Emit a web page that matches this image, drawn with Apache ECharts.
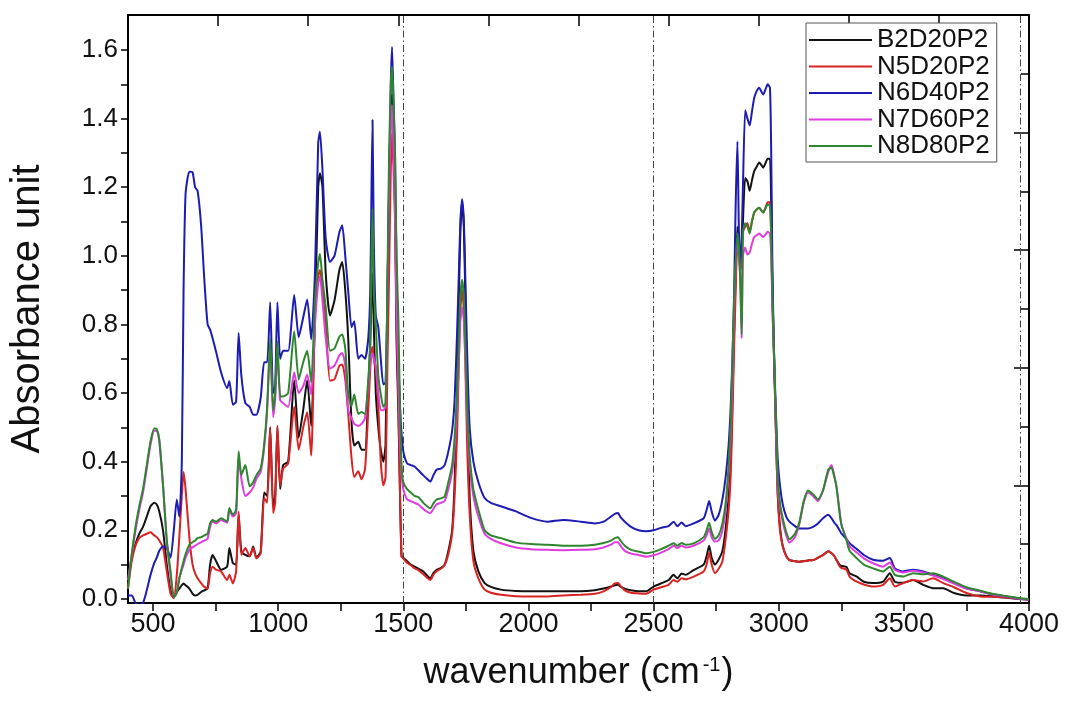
<!DOCTYPE html>
<html>
<head>
<meta charset="utf-8">
<title>FTIR absorbance spectra</title>
<script src="https://cdn.jsdelivr.net/npm/echarts@6/dist/echarts.min.js"></script>
<style>
  html, body { margin: 0; padding: 0; background: #ffffff; }
  #chart { width: 1067px; height: 702px; }
</style>
</head>
<body>
<div id="chart"></div>
<script>
// Wavenumber grid (cm^-1) shared by all spectra
const wavenumber = [400,415,430,445,460,475,490,505,515,525,
  540,555,570,583,595,605,615,622,630,645,
  658,668,678,692,705,718,728,738,752,772,
  796,805,819,832,842,853,869,886,900,913,
  930,944,956,968,980,988,997,1008,1020,1040,
  1064,1082,1100,1116,1132,1147,1160,1167,1177,1190,
  1207,1225,1245,1256,1268,1280,1293,1304,1320,1333,
  1347,1360,1368,1373,1377,1382,1390,1400,1410,1420,
  1429,1437,1443,1450,1455,1461,1467,1473,1480,1487,
  1493,1500,1515,1530,1545,1560,1580,1595,1608,1620,
  1632,1650,1665,1680,1695,1705,1715,1722,1728,1735,
  1742,1748,1755,1765,1780,1800,1825,1850,1890,1950,
  2010,2075,2140,2210,2265,2300,2330,2345,2358,2368,
  2385,2410,2440,2470,2500,2530,2560,2580,2595,2612,
  2628,2660,2700,2712,2722,2732,2745,2760,2775,2788,
  2800,2808,2815,2821,2828,2835,2841,2847,2852,2857,
  2866,2875,2884,2893,2902,2912,2922,2930,2938,2947,
  2956,2965,2970,2975,2983,2990,2996,3005,3016,3030,
  3043,3065,3083,3100,3117,3137,3157,3177,3198,3211,
  3222,3231,3243,3251,3271,3283,3312,3340,3377,3417,
  3444,3464,3497,3537,3577,3617,3657,3700,3750,3805,
  3858,3912,3965,4000];

// Absorbance of each sample on the grid above
const B2D20P2 = [0.05,0.12,0.16,0.19,0.21,0.24,0.27,0.28,0.275,0.255,
  0.2,0.1,0.025,0.004,0.02,0.03,0.04,0.045,0.04,0.03,
  0.015,0.01,0.012,0.02,0.025,0.03,0.1,0.128,0.11,0.085,
  0.094,0.148,0.104,0.1,0.245,0.138,0.128,0.124,0.153,0.12,
  0.138,0.31,0.3,0.5,0.27,0.3,0.5,0.32,0.39,0.4,
  0.637,0.47,0.55,0.637,0.504,0.826,1.2,1.241,1.2,0.95,
  0.826,0.87,0.96,0.982,0.9,0.757,0.516,0.447,0.458,0.435,
  0.435,0.6,0.75,0.88,0.95,0.8,0.6,0.5,0.435,0.4,
  0.45,0.9,1.2,1.42,1.47,1.35,1.15,0.75,0.55,0.3,
  0.124,0.12,0.11,0.1,0.094,0.088,0.08,0.068,0.06,0.075,
  0.084,0.09,0.1,0.14,0.2,0.34,0.6,0.88,1.07,1.155,
  1.08,0.87,0.58,0.3,0.14,0.08,0.046,0.035,0.027,0.023,
  0.022,0.022,0.022,0.022,0.025,0.03,0.036,0.04,0.041,0.036,
  0.03,0.025,0.022,0.022,0.036,0.045,0.055,0.07,0.06,0.074,
  0.07,0.084,0.1,0.125,0.155,0.12,0.1,0.115,0.14,0.205,
  0.3,0.407,0.58,0.761,0.95,1.085,1.03,0.96,1.0,1.1,
  1.227,1.217,1.19,1.22,1.247,1.26,1.272,1.265,1.257,1.27,
  1.283,1.283,1.15,0.9,0.66,0.45,0.306,0.21,0.154,0.125,
  0.113,0.11,0.108,0.11,0.112,0.113,0.12,0.128,0.139,0.133,
  0.125,0.113,0.1,0.096,0.093,0.075,0.065,0.05,0.046,0.05,
  0.075,0.05,0.047,0.055,0.041,0.031,0.031,0.017,0.01,0.01,
  0.007,0.003,0.0,-0.002];

const N5D20P2 = [0.03,0.11,0.155,0.178,0.185,0.19,0.194,0.185,0.18,0.17,
  0.15,0.08,0.015,0.002,0.07,0.18,0.3,0.37,0.32,0.18,
  0.1,0.075,0.06,0.046,0.035,0.03,0.075,0.094,0.085,0.08,
  0.055,0.07,0.045,0.08,0.255,0.128,0.148,0.124,0.148,0.118,
  0.133,0.294,0.28,0.5,0.25,0.28,0.505,0.33,0.38,0.395,
  0.56,0.435,0.5,0.544,0.418,0.826,0.94,0.959,0.9,0.8,
  0.636,0.64,0.68,0.683,0.64,0.539,0.412,0.355,0.372,0.349,
  0.378,0.55,0.67,0.72,0.734,0.7,0.665,0.562,0.4,0.331,
  0.355,0.7,0.94,1.25,1.356,1.25,1.1,0.8,0.596,0.3,
  0.124,0.118,0.105,0.098,0.089,0.084,0.072,0.062,0.055,0.07,
  0.08,0.088,0.098,0.13,0.19,0.3,0.48,0.69,0.84,0.9,
  0.84,0.68,0.45,0.25,0.11,0.06,0.027,0.018,0.012,0.008,
  0.007,0.007,0.01,0.012,0.015,0.022,0.035,0.045,0.046,0.038,
  0.025,0.018,0.016,0.015,0.027,0.034,0.041,0.055,0.05,0.06,
  0.057,0.065,0.08,0.1,0.135,0.1,0.075,0.088,0.11,0.174,
  0.26,0.356,0.53,0.71,0.9,1.044,1.0,0.96,0.98,1.07,
  1.085,1.095,1.07,1.1,1.126,1.135,1.14,1.133,1.126,1.14,
  1.156,1.156,1.05,0.85,0.66,0.45,0.306,0.2,0.154,0.125,
  0.113,0.11,0.108,0.11,0.112,0.113,0.12,0.128,0.139,0.133,
  0.125,0.113,0.095,0.09,0.085,0.065,0.05,0.042,0.036,0.041,
  0.06,0.036,0.046,0.055,0.051,0.06,0.046,0.034,0.017,0.007,
  0.006,0.004,0.0,-0.002];

const N6D40P2 = [0.01,0.01,-0.012,-0.02,-0.012,0.025,0.07,0.105,0.12,0.14,
  0.153,0.148,0.12,0.2,0.29,0.24,0.4,0.9,1.18,1.245,
  1.243,1.2,1.19,1.09,0.93,0.8,0.785,0.76,0.72,0.66,
  0.615,0.635,0.566,0.575,0.775,0.65,0.57,0.56,0.537,0.537,
  0.585,0.69,0.69,0.865,0.6,0.62,0.865,0.7,0.723,0.723,
  0.886,0.763,0.82,0.873,0.757,0.95,1.33,1.362,1.25,1.05,
  0.982,1.0,1.07,1.089,1.0,0.896,0.792,0.809,0.7,0.711,
  0.7,0.76,0.9,1.2,1.396,1.05,0.826,0.792,0.7,0.625,
  0.631,0.9,1.17,1.5,1.609,1.45,1.287,0.95,0.711,0.56,
  0.481,0.43,0.395,0.39,0.386,0.375,0.36,0.35,0.342,0.36,
  0.376,0.38,0.39,0.43,0.49,0.58,0.78,0.95,1.1,1.165,
  1.1,0.93,0.72,0.5,0.4,0.34,0.294,0.28,0.27,0.255,
  0.236,0.225,0.23,0.225,0.22,0.225,0.24,0.248,0.25,0.238,
  0.225,0.21,0.2,0.197,0.2,0.207,0.212,0.225,0.212,0.223,
  0.212,0.22,0.235,0.26,0.285,0.255,0.228,0.245,0.29,0.356,
  0.45,0.559,0.7,0.863,1.15,1.333,1.07,0.974,1.05,1.2,
  1.424,1.4,1.38,1.42,1.46,1.48,1.49,1.48,1.47,1.485,
  1.5,1.49,1.3,0.95,0.66,0.52,0.407,0.33,0.276,0.24,
  0.225,0.212,0.205,0.205,0.205,0.21,0.22,0.235,0.245,0.235,
  0.222,0.215,0.2,0.19,0.174,0.162,0.145,0.128,0.114,0.111,
  0.119,0.089,0.08,0.085,0.08,0.07,0.062,0.046,0.031,0.022,
  0.012,0.007,0.0,-0.002];

const N7D60P2 = [0.055,0.13,0.2,0.26,0.31,0.38,0.45,0.49,0.49,0.46,
  0.33,0.17,0.07,0.005,0.02,0.06,0.085,0.1,0.12,0.143,
  0.15,0.155,0.16,0.165,0.17,0.175,0.21,0.225,0.22,0.23,
  0.222,0.26,0.24,0.25,0.41,0.35,0.3,0.31,0.325,0.35,
  0.37,0.44,0.55,0.74,0.53,0.58,0.72,0.58,0.57,0.56,
  0.66,0.6,0.62,0.654,0.596,0.8,0.92,0.94,0.87,0.76,
  0.671,0.68,0.71,0.717,0.68,0.55,0.527,0.51,0.504,0.51,
  0.527,0.62,0.69,0.71,0.715,0.7,0.68,0.6,0.55,0.55,
  0.56,0.9,1.17,1.38,1.44,1.32,1.12,0.85,0.65,0.45,
  0.366,0.32,0.29,0.285,0.28,0.275,0.262,0.254,0.25,0.262,
  0.275,0.28,0.285,0.32,0.37,0.44,0.56,0.7,0.81,0.85,
  0.81,0.69,0.54,0.39,0.3,0.24,0.19,0.175,0.162,0.15,
  0.145,0.143,0.142,0.143,0.145,0.15,0.158,0.165,0.165,0.155,
  0.14,0.132,0.128,0.123,0.127,0.135,0.145,0.155,0.148,0.155,
  0.15,0.155,0.17,0.185,0.205,0.18,0.167,0.17,0.2,0.26,
  0.37,0.48,0.64,0.83,0.97,1.05,1.0,0.93,0.76,1.0,
  1.024,1.004,1.01,1.035,1.055,1.06,1.065,1.06,1.055,1.062,
  1.07,1.065,1.0,0.85,0.66,0.48,0.336,0.27,0.225,0.185,
  0.164,0.18,0.22,0.28,0.31,0.3,0.285,0.316,0.37,0.39,
  0.36,0.326,0.26,0.215,0.175,0.153,0.135,0.118,0.104,0.094,
  0.106,0.085,0.077,0.082,0.077,0.068,0.058,0.045,0.03,0.022,
  0.012,0.007,0.0,-0.002];

const N8D80P2 = [0.03,0.13,0.21,0.27,0.32,0.39,0.46,0.497,0.495,0.465,
  0.33,0.17,0.08,0.005,0.018,0.06,0.09,0.11,0.13,0.158,
  0.165,0.17,0.177,0.18,0.185,0.19,0.22,0.23,0.225,0.235,
  0.226,0.265,0.245,0.26,0.43,0.362,0.39,0.328,0.34,0.36,
  0.38,0.45,0.56,0.76,0.55,0.6,0.75,0.59,0.59,0.6,
  0.78,0.64,0.69,0.723,0.631,0.87,0.98,1.005,0.93,0.85,
  0.723,0.73,0.765,0.771,0.73,0.596,0.562,0.596,0.539,0.545,
  0.539,0.64,0.75,1.0,1.137,0.9,0.8,0.65,0.596,0.56,
  0.57,0.95,1.287,1.5,1.552,1.45,1.3,1.0,0.826,0.55,
  0.389,0.34,0.32,0.31,0.3,0.297,0.28,0.27,0.264,0.278,
  0.289,0.293,0.298,0.34,0.39,0.47,0.6,0.76,0.88,0.93,
  0.88,0.75,0.58,0.42,0.32,0.26,0.2,0.185,0.177,0.164,
  0.16,0.158,0.155,0.155,0.158,0.163,0.17,0.177,0.18,0.17,
  0.155,0.143,0.138,0.133,0.137,0.145,0.155,0.162,0.155,0.163,
  0.158,0.162,0.18,0.2,0.222,0.195,0.175,0.185,0.22,0.28,
  0.39,0.509,0.69,0.863,0.98,1.065,1.03,0.9,0.77,1.065,
  1.095,1.085,1.065,1.1,1.126,1.135,1.14,1.133,1.126,1.138,
  1.15,1.146,1.05,0.88,0.68,0.5,0.356,0.28,0.235,0.195,
  0.174,0.19,0.225,0.285,0.316,0.305,0.29,0.316,0.377,0.382,
  0.355,0.326,0.25,0.215,0.17,0.14,0.118,0.1,0.089,0.08,
  0.094,0.07,0.065,0.075,0.072,0.075,0.065,0.05,0.034,0.024,
  0.014,0.008,0.002,0.0];

const sampleNames = ['B2D20P2', 'N5D20P2', 'N6D40P2', 'N7D60P2', 'N8D80P2'];
const sampleValues = [B2D20P2, N5D20P2, N6D40P2, N7D60P2, N8D80P2];
const sampleColors = ['#111111', '#d92323', '#1c1cb4', '#e03ce0', '#2e862e'];

// Axis ticks and labels
const xLabelValues = [500, 1000, 1500, 2000, 2500, 3000, 3500, 4000];
const xTickValues = [500, 750, 1000, 1250, 1500, 1750, 2000, 2250, 2500, 2750, 3000, 3250, 3500, 3750, 4000];
const yLabelValues = [0, 0.2, 0.4, 0.6, 0.8, 1.0, 1.2, 1.4, 1.6];
const yTickValues = [0, 0.1, 0.2, 0.3, 0.4, 0.5, 0.6, 0.7, 0.8, 0.9, 1.0, 1.1, 1.2, 1.3, 1.4, 1.5, 1.6];
// Dash-dot reference lines
const guideLines = [1500, 2500, 3965];

const FONT = '"Liberation Sans", Arial, Helvetica, sans-serif';
const chart = echarts.init(document.getElementById('chart'), null, { renderer: 'canvas' });

const axisLine = { show: true, onZero: false, lineStyle: { color: '#000', width: 2 } };

const series = sampleNames.map((name, i) => {
  const s = {
    name: name,
    type: 'line',
    xAxisIndex: 0,
    yAxisIndex: 0,
    symbol: 'none',
    showSymbol: false,
    smooth: 0.2,
    clip: true,
    lineStyle: { color: sampleColors[i], width: 2 },
    itemStyle: { color: sampleColors[i] },
    data: wavenumber.map((w, k) => [w, sampleValues[i][k]]),
    z: 3 + i
  };
  if (i === 0) {
    s.markLine = {
      silent: true,
      symbol: ['none', 'none'],
      label: { show: false },
      lineStyle: { color: '#444', width: 1, type: [7, 3, 1.5, 3] },
      data: guideLines.map(v => ({ xAxis: v })),
      z: 1
    };
  }
  return s;
});

chart.setOption({
  animation: false,
  backgroundColor: '#ffffff',
  grid: { left: 127, right: 38, top: 15, bottom: 99, containLabel: false },
  legend: {
    left: 806,
    top: 23,
    orient: 'vertical',
    padding: [4, 7, 3, 3],
    itemGap: 0.5,
    icon: 'rect',
    itemWidth: 63,
    itemHeight: 2,
    borderColor: '#555',
    borderWidth: 1,
    borderRadius: 0,
    backgroundColor: '#ffffff',
    textStyle: { fontFamily: FONT, fontSize: 26, color: '#111', lineHeight: 26 },
    data: sampleNames
  },
  xAxis: [
    {
      type: 'value',
      position: 'bottom',
      min: 400,
      max: 4000,
      name: '{t|wavenumber (cm}{s|-1}{t|)}',
      nameLocation: 'middle',
      nameGap: 52,
      nameTextStyle: {
        rich: {
          t: { fontFamily: FONT, fontSize: 36, color: '#111' },
          s: { fontFamily: FONT, fontSize: 20, color: '#111', verticalAlign: 'top', padding: [0, 1, 0, 3] }
        }
      },
      axisLine: axisLine,
      axisTick: { show: true, inside: false, length: 8, customValues: xTickValues, lineStyle: { color: '#000', width: 1.5 } },
      axisLabel: {
        show: true, margin: 8, customValues: xLabelValues,
        fontFamily: FONT, fontSize: 27, color: '#111',
        formatter: v => String(v)
      },
      splitLine: { show: false }
    },
    {
      type: 'value',
      position: 'top',
      min: 0,
      max: 10,
      interval: 1,
      axisLine: axisLine,
      axisTick: { show: true, inside: true, length: 11, lineStyle: { color: '#000', width: 1.5 } },
      axisLabel: { show: false },
      splitLine: { show: false }
    }
  ],
  yAxis: [
    {
      type: 'value',
      position: 'left',
      min: -0.012,
      max: 1.702,
      name: 'Absorbance unit',
      nameLocation: 'middle',
      nameRotate: 90,
      nameGap: 80,
      nameTextStyle: { fontFamily: FONT, fontSize: 40, color: '#111' },
      axisLine: axisLine,
      axisTick: { show: true, inside: false, length: 7, customValues: yTickValues, lineStyle: { color: '#000', width: 1.5 } },
      axisLabel: {
        show: true, margin: 10, customValues: yLabelValues,
        fontFamily: FONT, fontSize: 26, color: '#111',
        formatter: v => v.toFixed(1)
      },
      splitLine: { show: false }
    },
    {
      type: 'value',
      position: 'right',
      min: 0,
      max: 10,
      interval: 2,
      axisLine: axisLine,
      axisTick: { show: true, inside: true, length: 15, lineStyle: { color: '#000', width: 1.5 } },
      minorTick: { show: true, splitNumber: 2, length: 8, lineStyle: { color: '#000', width: 1.5 } },
      axisLabel: { show: false },
      splitLine: { show: false },
      minorSplitLine: { show: false }
    }
  ],
  series: series
});
</script>
</body>
</html>
